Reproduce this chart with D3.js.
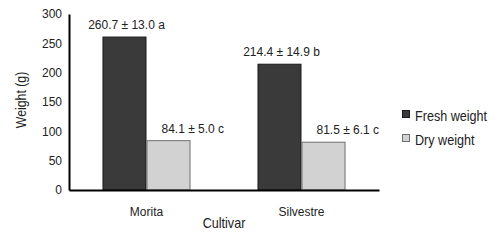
<!DOCTYPE html>
<html>
<head>
<meta charset="utf-8">
<script src="https://cdn.jsdelivr.net/npm/d3@7"></script>
<style>
  body { margin: 0; background: #fff; }
  svg { display: block; }
</style>
</head>
<body>
<svg width="501" height="242"></svg>
<script>
// data
const cultivars = ["Morita", "Silvestre"];
const series = ["Fresh weight", "Dry weight"];
const freshValues = [260.7, 214.4];
const dryValues = [84.1, 81.5];
const freshLabels = ["260.7 ± 13.0 a", "214.4 ± 14.9 b"];
const dryLabels = ["84.1 ± 5.0 c", "81.5 ± 6.1 c"];
const yTicks = [0, 50, 100, 150, 200, 250, 300];

const width = 501,
  height = 242;
const margin = { top: 14, right: 122, bottom: 52, left: 69 };
const plotWidth = width - margin.left - margin.right,
  plotHeight = height - margin.top - margin.bottom;

const font = "'Liberation Sans', Arial, sans-serif";
const fills = { "Fresh weight": "#3a3a3a", "Dry weight": "#d2d2d2" };
const strokes = { "Fresh weight": "#1a1a1a", "Dry weight": "#707070" };

const rows = cultivars.map((c, i) => ({
  cultivar: c,
  values: [
    { key: "Fresh weight", value: freshValues[i], label: freshLabels[i] },
    { key: "Dry weight", value: dryValues[i], label: dryLabels[i] },
  ],
}));

const svg = d3.select("svg").attr("font-family", font);
const g = svg.append("g").attr("transform", `translate(${margin.left}, ${margin.top})`);

const x0 = d3
  .scaleBand()
  .domain(cultivars)
  .range([0, plotWidth])
  .paddingInner(0.432)
  .paddingOuter(0.216);

const x1 = d3.scaleBand().domain(series).range([0, x0.bandwidth()]);

const y = d3.scaleLinear().domain([0, 300]).range([plotHeight, 0]);

// y axis (no tick marks)
const yAxis = g.append("g").call(d3.axisLeft(y).tickValues(yTicks).tickSize(0).tickPadding(7));
yAxis.select(".domain").attr("stroke", "#000").attr("stroke-width", 2);
yAxis.selectAll("text").attr("font-size", 12).attr("fill", "#222").attr("font-family", font);

// bars
const groups = g
  .append("g")
  .selectAll("g")
  .data(rows)
  .join("g")
  .attr("transform", (d) => `translate(${x0(d.cultivar)}, 0)`);

groups
  .selectAll("rect")
  .data((d) => d.values)
  .join("rect")
  .attr("x", (d) => x1(d.key) + 0.5)
  .attr("y", (d) => y(d.value))
  .attr("width", x1.bandwidth() - 1)
  .attr("height", (d) => plotHeight - y(d.value))
  .attr("fill", (d) => fills[d.key])
  .attr("stroke", (d) => strokes[d.key])
  .attr("stroke-width", 1);

// value labels
groups
  .selectAll("text")
  .data((d) => d.values)
  .join("text")
  .attr("x", (d) =>
    d.key == "Fresh weight" ? x1(d.key) + x1.bandwidth() / 2 + 2 : x1(d.key) + 15
  )
  .attr("y", (d) => y(d.value) - 8)
  .attr("text-anchor", (d) => (d.key == "Fresh weight" ? "middle" : "start"))
  .attr("font-size", 12)
  .attr("fill", "#222")
  .text((d) => d.label);

// x axis
const xAxis = g
  .append("g")
  .attr("transform", `translate(0, ${plotHeight})`)
  .call(d3.axisBottom(x0).tickSize(0).tickPadding(17));
xAxis.select(".domain").attr("stroke", "#000").attr("stroke-width", 2);
xAxis.selectAll("text").attr("font-size", 12).attr("fill", "#222").attr("font-family", font);

// axis titles (source font is condensed, so squeeze horizontally)
g.append("text")
  .attr("transform", `translate(${plotWidth / 2}, ${plotHeight + 38}) scale(0.9, 1)`)
  .attr("text-anchor", "middle")
  .attr("font-size", 14)
  .attr("fill", "#222")
  .text("Cultivar");

g.append("text")
  .attr("transform", `translate(-43, ${plotHeight / 2 - 2}) rotate(-90) scale(0.88, 1)`)
  .attr("text-anchor", "middle")
  .attr("font-size", 14)
  .attr("fill", "#222")
  .text("Weight (g)");

// legend
const legend = svg
  .append("g")
  .attr("transform", "translate(402, 110)")
  .selectAll("g")
  .data(series)
  .join("g")
  .attr("transform", (d, i) => `translate(0, ${i * 24})`);

legend
  .append("rect")
  .attr("x", 0.5)
  .attr("y", 0.5)
  .attr("width", 7)
  .attr("height", 7)
  .attr("fill", (d) => fills[d])
  .attr("stroke", (d) => strokes[d]);

legend
  .append("text")
  .attr("transform", "translate(13, 11) scale(0.84, 1)")
  .attr("font-size", 15)
  .attr("fill", "#222")
  .text((d) => d);
</script>
</body>
</html>
